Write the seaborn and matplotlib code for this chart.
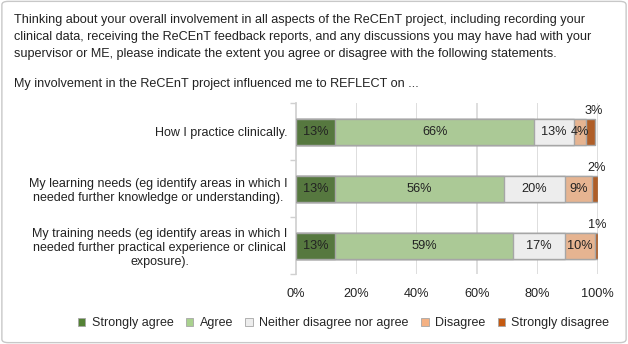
import matplotlib
matplotlib.use("Agg")
import matplotlib.pyplot as plt
from matplotlib.patches import FancyBboxPatch, Patch
import numpy as np
import pandas as pd
import seaborn as sns

statements = [
    "How I practice clinically.",
    "My learning needs (eg identify areas in which I\nneeded further knowledge or understanding).",
    "My training needs (eg identify areas in which I\nneeded further practical experience or clinical\nexposure).",
]
responses = ["Strongly agree", "Agree", "Neither disagree nor agree", "Disagree", "Strongly disagree"]
strongly_agree = [13, 13, 13]
agree = [66, 56, 59]
neither = [13, 20, 17]
disagree = [4, 9, 10]
strongly_disagree = [3, 2, 1]
colors = ["#548235", "#a9d18e", "#ededed", "#f4b183", "#c55a11"]
x_ticks = [0, 20, 40, 60, 80, 100]

sns.set_theme(style="white")
plt.rcParams["font.family"] = ["Liberation Sans", "DejaVu Sans"]

vals = np.array([strongly_agree, agree, neither, disagree, strongly_disagree], dtype=float)
cum = vals.cumsum(axis=0)

fig = plt.figure(figsize=(6.28, 3.44), dpi=100)
fig.add_artist(FancyBboxPatch((0.003, 0.004), 0.994, 0.992, boxstyle="round,pad=0,rounding_size=0.01",
                              transform=fig.transFigure, fc="none", ec="#c8c8c8", lw=1))
ax = fig.add_axes([0.471, 0.203, 0.481, 0.497])

# vertical gridlines as thin spans (behind the bars)
for t in x_ticks[1:]:
    ax.axvspan(t - 0.2, t + 0.2, color="#dedede", lw=0, zorder=0.5)

# stacked bars: draw cumulative totals from the outermost in
for k in range(len(responses) - 1, -1, -1):
    df = pd.DataFrame({"statement": statements, "total": cum[k]})
    sns.barplot(data=df, x="total", y="statement", orient="h", color=colors[k],
                edgecolor="#a6a6a6", linewidth=1, width=0.46, ax=ax, zorder=3)

for i in range(len(statements)):
    for k in range(len(responses)):
        v = vals[k, i]
        mid = cum[k, i] - v / 2
        if v >= 4:
            ax.text(mid, i, f"{v:.0f}%", ha="center", va="center", fontsize=9.2, color="#222222", zorder=4)
        else:
            ax.text(cum[k, i] - 0.3, i - 0.25, f"{v:.0f}%", ha="center", va="bottom", fontsize=9.2,
                    color="#222222", zorder=4)

ax.set_xlim(0, 100)
ax.set_ylim(2.5, -0.5)
ax.set_xticks(x_ticks)
ax.set_xticklabels([f"{t}%" for t in x_ticks], fontsize=9.2, color="#222222")
ax.set_yticks([-0.5, 0.5, 1.5, 2.5], minor=True)
ax.tick_params(axis="y", which="minor", length=4, color="#d0d0d0", left=True)
ax.tick_params(axis="y", which="major", length=0, pad=6, labelsize=9, labelcolor="#222222")
ax.tick_params(axis="x", length=0, pad=10)
for lab in ax.get_yticklabels():
    lab.set_multialignment("center")
ax.set_xlabel("")
ax.set_ylabel("")
for s in ["top", "right", "bottom"]:
    ax.spines[s].set_visible(False)
ax.spines["left"].set_color("#d0d0d0")

fig.text(0.022, 0.96, "Thinking about your overall involvement in all aspects of the ReCEnT project, including recording your\n"
         "clinical data, receiving the ReCEnT feedback reports, and any discussions you may have had with your\n"
         "supervisor or ME, please indicate the extent you agree or disagree with the following statements.",
         ha="left", va="top", fontsize=9.1, color="#222222", linespacing=1.55)
fig.text(0.022, 0.772, "My involvement in the ReCEnT project influenced me to REFLECT on ...",
         ha="left", va="top", fontsize=9.1, color="#222222")

handles = [Patch(facecolor=c, edgecolor="#a6a6a6", lw=0.6) for c in colors]
fig.legend(handles, responses, loc="center", bbox_to_anchor=(0.547, 0.06), ncol=5, frameon=False,
           fontsize=9, handlelength=0.6, handleheight=0.6, handletextpad=0.5, columnspacing=1.0)

fig.savefig("out.png", dpi=100)
